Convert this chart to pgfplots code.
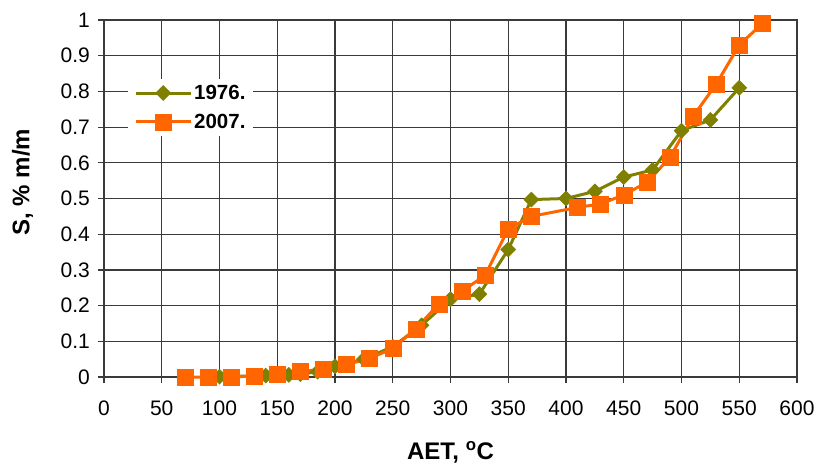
\documentclass[border=0pt]{standalone}
\usepackage{pgfplots}
\pgfplotsset{compat=1.18}
\usepackage{fontspec}
\setmainfont{Liberation Sans}

\definecolor{oliveline}{HTML}{808000}
\definecolor{orangeline}{HTML}{FF6600}
\definecolor{gridgray}{HTML}{3A3A3A}

% Sulphur content vs. atmospheric equivalent temperature
\pgfplotstableread{
x    y
100  0.001
140  0.004
160  0.006
170  0.008
185  0.015
200  0.030
225  0.050
250  0.085
275  0.145
300  0.218
325  0.232
350  0.357
370  0.497
400  0.500
425  0.520
450  0.560
475  0.580
500  0.690
525  0.720
550  0.810
}\dataA

\pgfplotstableread{
x    y
70   0.000
90   0.000
110  0.000
130  0.003
150  0.008
170  0.015
190  0.022
210  0.035
230  0.052
250  0.080
270  0.135
290  0.205
310  0.240
330  0.285
350  0.415
370  0.450
410  0.475
430  0.485
450  0.510
470  0.545
490  0.615
510  0.730
530  0.820
550  0.930
570  0.990
}\dataB

\begin{document}
\begin{tikzpicture}
\path[use as bounding box] (-104pt,-89pt) rectangle (714pt,377pt);
\begin{axis}[
  at={(0pt,0pt)}, anchor=south west,
  scale only axis,
  width=693pt, height=357pt,
  xmin=0, xmax=600, ymin=0, ymax=1,
  xtick={0,50,...,600},
  ytick={0,0.1,...,1},
  yticklabels={0,0.1,0.2,0.3,0.4,0.5,0.6,0.7,0.8,0.9,1},
  /pgf/number format/assume math mode=true,
  tick align=outside,
  major tick length=6pt,
  tick style={gridgray, line width=1.2pt},
  xtick pos=bottom, ytick pos=left,
  grid=major,
  major grid style={gridgray, line width=1.2pt},
  axis line style={gridgray, line width=1.4pt},
  ticklabel style={font=\fontsize{21}{25}\selectfont},
  xticklabel style={inner sep=0pt, anchor=north, yshift=-18pt},
  yticklabel style={inner sep=0pt, anchor=east, xshift=-8pt},
  every axis x label/.style={at={(axis description cs:0.5,-0.21)}, anchor=center},
  every axis y label/.style={at={(axis description cs:-0.1176,0.546)}, rotate=90, anchor=center},
  xlabel={\fontsize{24}{28}\selectfont\bfseries AET, \textsuperscript{o}C},
  ylabel={\fontsize{24}{28}\selectfont\bfseries S, \% m/m},
  clip=false,
  legend style={
    at={(rel axis cs:0.0346,0.835)}, anchor=north west,
    draw=none, fill=white,
    font=\fontsize{20.5}{24}\selectfont\bfseries,
    inner xsep=6pt, inner ysep=4pt,
    row sep=9pt,
    cells={anchor=west},
  },
  legend image code/.code={%
    \draw[#1, mark=none] (0pt,0pt) -- (55pt,0pt);
    \draw[#1, only marks] plot coordinates {(27.5pt,0pt)};
  },
]
\addplot[oliveline, line width=3pt, mark=diamond*,
  mark size=7.5pt, mark options={solid, xscale=1.33, fill=oliveline, draw=oliveline, line width=0.5pt}]
  table[x=x, y=y] {\dataA};
\addlegendentry{1976.}
\addplot[orangeline, line width=3pt, mark=square*,
  mark size=8pt, mark options={solid, fill=orangeline, draw=orangeline, line width=0.5pt}]
  table[x=x, y=y] {\dataB};
\addlegendentry{2007.}
\end{axis}
\end{tikzpicture}
\end{document}
